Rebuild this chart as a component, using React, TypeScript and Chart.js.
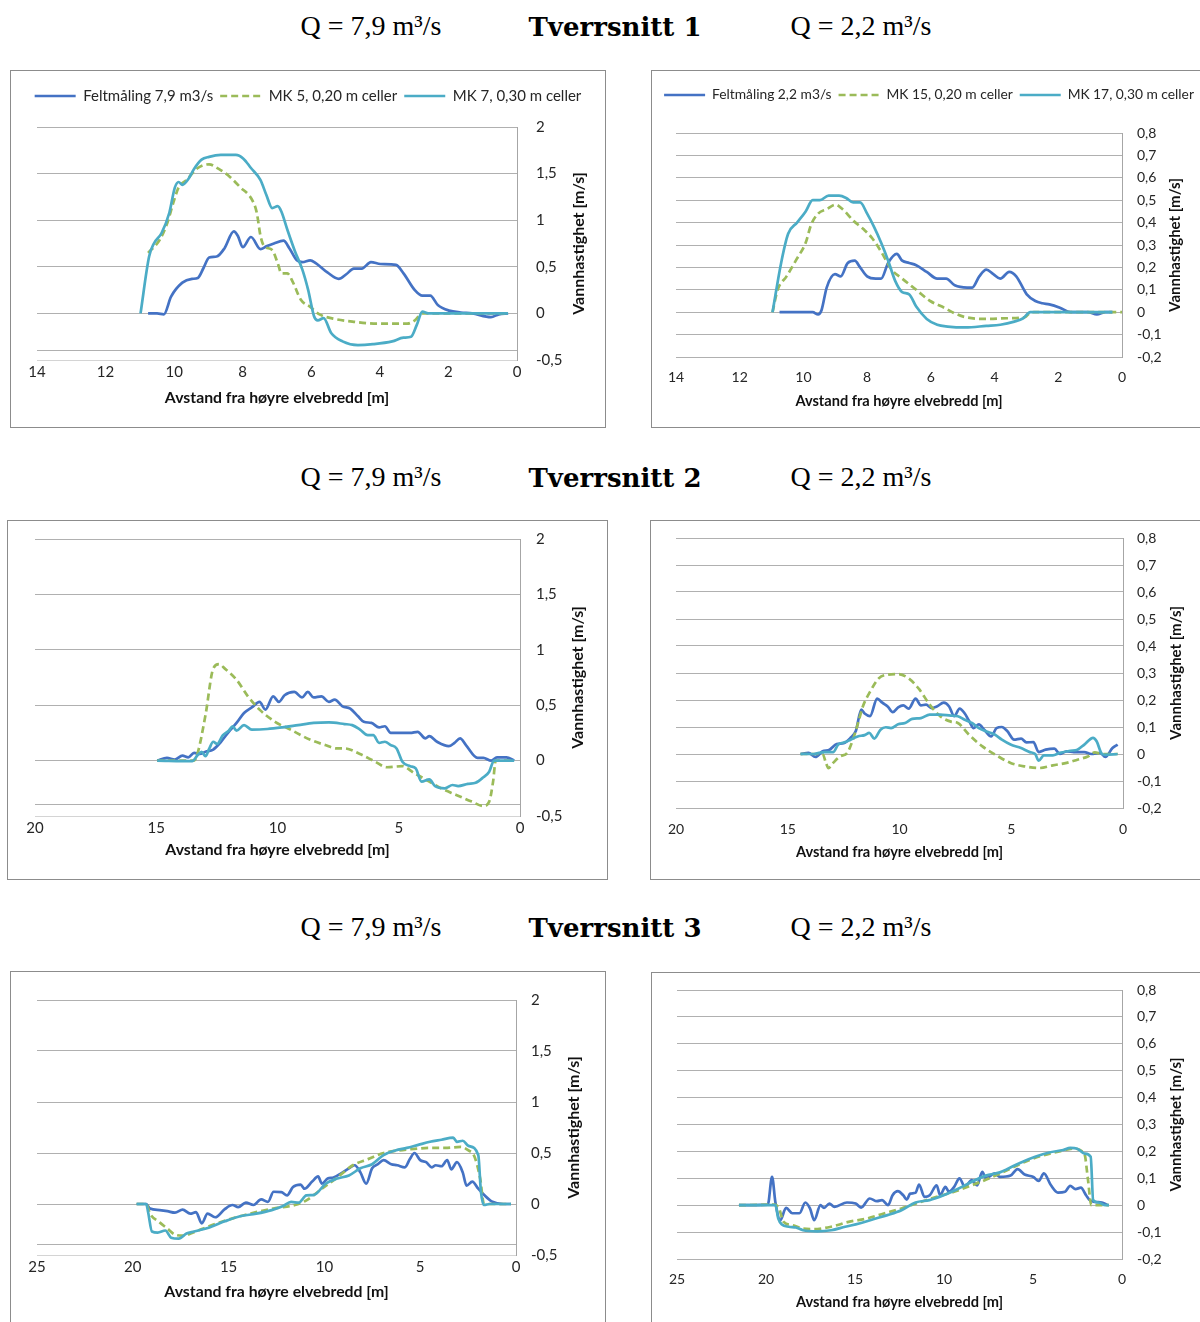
import React, { useEffect, useRef } from "react";
import { Chart, registerables } from "chart.js";

Chart.register(...registerables);

const FELT_COLOR = "#4472C4";
const MK_A_COLOR = "#9BBB59";
const MK_B_COLOR = "#4BACC6";

const X_TITLE = "Avstand fra høyre elvebredd [m]";
const Y_TITLE = "Vannhastighet [m/s]";

// ---------- Tverrsnitt 1, Q = 7,9 ----------
const ts1FeltX = [10.76, 10.5, 10.3, 10.09, 9.76, 9.48, 9.31, 9.14, 8.98, 8.76, 8.53, 8.26, 8.14, 8.0, 7.76, 7.48, 7.31, 7.09, 6.81, 6.64, 6.42, 6.26, 6.03, 5.87, 5.53, 5.2, 4.98, 4.76, 4.53, 4.26, 3.98, 3.53, 3.31, 2.98, 2.76, 2.53, 2.31, 1.98, 1.64, 1.31, 0.76, 0.53, 0.26];
const ts1FeltY = [0, 0, -0.01, 0.18, 0.33, 0.37, 0.38, 0.49, 0.6, 0.61, 0.7, 0.88, 0.83, 0.71, 0.82, 0.69, 0.72, 0.75, 0.78, 0.7, 0.57, 0.55, 0.57, 0.54, 0.44, 0.37, 0.42, 0.48, 0.48, 0.55, 0.53, 0.52, 0.43, 0.25, 0.19, 0.19, 0.09, 0.03, 0.01, 0, -0.04, -0.01, 0];
const ts1Mk5X = [10.76, 10.42, 10.2, 10.03, 9.87, 9.64, 9.31, 8.98, 8.7, 8.42, 8.09, 7.7, 7.59, 7.48, 7.37, 7.14, 6.98, 6.87, 6.7, 6.53, 6.31, 6.03, 5.76, 5.31, 4.76, 4.09, 3.2, 2.98, 2.76, 2.0, 1.0, 0.26];
const ts1Mk5Y = [0.65, 0.79, 0.97, 1.18, 1.35, 1.43, 1.56, 1.6, 1.55, 1.48, 1.36, 1.2, 1.08, 0.83, 0.72, 0.68, 0.54, 0.43, 0.43, 0.33, 0.15, 0.07, -0.01, -0.06, -0.09, -0.11, -0.11, -0.075, 0, 0, 0, 0];
const ts1Mk7X = [10.98, 10.73, 10.59, 10.37, 10.14, 9.98, 9.87, 9.76, 9.59, 9.42, 9.2, 8.98, 8.64, 8.2, 7.98, 7.76, 7.48, 7.31, 7.14, 6.98, 6.87, 6.7, 6.48, 6.26, 6.09, 5.92, 5.81, 5.64, 5.42, 5.09, 4.64, 4.2, 3.64, 3.31, 3.09, 2.92, 2.76, 2.59, 1.5, 0.26];
const ts1Mk7Y = [0, 0.61, 0.75, 0.86, 1.08, 1.35, 1.41, 1.38, 1.44, 1.55, 1.65, 1.68, 1.7, 1.7, 1.66, 1.56, 1.43, 1.27, 1.13, 1.15, 1.09, 0.9, 0.67, 0.47, 0.25, -0.03, -0.075, -0.05, -0.21, -0.3, -0.34, -0.33, -0.3, -0.26, -0.25, -0.12, 0.02, 0, 0, 0];

// ---------- Tverrsnitt 1, Q = 2,2 ----------
const ts1LowFeltX = [10.75, 10.2, 9.71, 9.54, 9.43, 9.27, 9.01, 8.83, 8.61, 8.39, 8.22, 8.0, 7.73, 7.56, 7.34, 7.07, 6.9, 6.68, 6.46, 6.13, 5.8, 5.52, 5.25, 4.86, 4.7, 4.48, 4.26, 4.04, 3.82, 3.54, 3.32, 2.99, 2.72, 2.5, 2.28, 1.95, 1.62, 1.07, 0.79, 0.52, 0.3];
const ts1LowFeltY = [0, 0, 0, -0.01, 0.01, 0.11, 0.17, 0.16, 0.22, 0.23, 0.2, 0.16, 0.15, 0.15, 0.22, 0.26, 0.23, 0.22, 0.21, 0.18, 0.15, 0.15, 0.12, 0.11, 0.11, 0.16, 0.19, 0.17, 0.15, 0.18, 0.16, 0.08, 0.05, 0.04, 0.035, 0.02, 0, 0, -0.01, 0, 0];
const ts1Mk15X = [10.97, 10.81, 10.53, 10.2, 9.93, 9.76, 9.54, 9.27, 8.99, 8.77, 8.44, 8.11, 7.84, 7.56, 7.23, 6.9, 6.46, 6.02, 5.58, 5.25, 4.92, 4.26, 3.6, 3.05, 2.88, 2.77, 1.5, 0];
const ts1Mk15Y = [0, 0.1, 0.16, 0.24, 0.31, 0.39, 0.44, 0.46, 0.48, 0.46, 0.41, 0.37, 0.33, 0.27, 0.19, 0.15, 0.1, 0.05, 0.02, -0.005, -0.022, -0.03, -0.027, -0.022, -0.002, 0, 0, 0];
const ts1Mk17X = [10.97, 10.7, 10.48, 10.2, 9.93, 9.71, 9.49, 9.21, 8.88, 8.66, 8.44, 8.22, 8.0, 7.78, 7.56, 7.34, 7.12, 6.9, 6.68, 6.46, 6.13, 5.8, 5.47, 4.92, 4.26, 3.82, 3.38, 3.1, 2.88, 2.72, 1.5, 0.3];
const ts1Mk17Y = [0, 0.22, 0.35, 0.4, 0.45, 0.5, 0.5, 0.52, 0.52, 0.51, 0.49, 0.49, 0.44, 0.38, 0.31, 0.23, 0.14, 0.09, 0.08, 0.025, -0.03, -0.056, -0.064, -0.068, -0.061, -0.056, -0.042, -0.027, 0, 0, 0, 0];

// ---------- Tverrsnitt 2, Q = 7,9 ----------
const ts2FeltX = [14.96, 14.56, 14.24, 13.92, 13.68, 13.44, 13.21, 12.97, 12.65, 12.33, 12.01, 11.69, 11.38, 11.06, 10.74, 10.5, 10.18, 9.94, 9.71, 9.31, 8.99, 8.75, 8.51, 8.19, 7.88, 7.64, 7.32, 7.0, 6.68, 6.44, 6.13, 5.81, 5.57, 5.33, 4.85, 4.53, 4.22, 3.9, 3.74, 3.42, 2.94, 2.7, 2.47, 2.23, 1.75, 1.51, 1.19, 0.95, 0.56, 0.24];
const ts2FeltY = [0, 0.025, 0.01, 0.045, 0.03, 0.07, 0.06, 0.08, 0.1, 0.17, 0.26, 0.34, 0.43, 0.48, 0.53, 0.46, 0.58, 0.53, 0.59, 0.62, 0.57, 0.62, 0.57, 0.58, 0.53, 0.55, 0.49, 0.47, 0.4, 0.35, 0.34, 0.3, 0.31, 0.25, 0.25, 0.25, 0.26, 0.2, 0.22, 0.17, 0.13, 0.16, 0.2, 0.14, 0.025, 0.025, 0, 0.03, 0.03, 0];
const ts2Mk5X = [14.96, 13.44, 13.29, 12.97, 12.65, 12.41, 12.17, 11.69, 11.22, 10.74, 10.1, 9.47, 8.67, 8.03, 7.56, 7.24, 6.6, 5.97, 5.49, 4.85, 4.38, 3.74, 3.26, 2.63, 1.99, 1.51, 1.27, 1.11, 1.0, 0.24];
const ts2Mk5Y = [0, 0, 0.07, 0.41, 0.83, 0.87, 0.83, 0.73, 0.58, 0.46, 0.35, 0.28, 0.19, 0.14, 0.11, 0.11, 0.06, -0.01, -0.06, -0.05, -0.11, -0.19, -0.25, -0.31, -0.37, -0.41, -0.37, -0.19, 0, 0];
const ts2Mk7X = [14.96, 13.52, 13.29, 13.13, 12.97, 12.81, 12.65, 12.49, 12.25, 12.01, 11.85, 11.69, 11.38, 11.06, 10.42, 9.79, 9.15, 8.51, 7.88, 7.24, 6.92, 6.6, 6.28, 6.05, 5.81, 5.57, 5.33, 5.09, 4.85, 4.53, 4.3, 4.06, 3.74, 3.5, 3.1, 2.78, 2.55, 2.15, 1.83, 1.51, 1.27, 1.07, 0.24];
const ts2Mk7Y = [0, -0.005, 0.05, 0.08, 0.04, 0.11, 0.17, 0.15, 0.23, 0.27, 0.31, 0.27, 0.32, 0.28, 0.285, 0.3, 0.32, 0.34, 0.345, 0.33, 0.32, 0.28, 0.23, 0.23, 0.16, 0.17, 0.14, 0.11, -0.01, -0.05, -0.07, -0.19, -0.17, -0.23, -0.25, -0.22, -0.23, -0.21, -0.2, -0.15, -0.1, 0, 0];

// ---------- Tverrsnitt 2, Q = 2,2 ----------
const ts2LowFeltX = [14.43, 14.07, 13.76, 13.44, 13.13, 12.81, 12.5, 12.19, 11.95, 11.71, 11.56, 11.32, 11.0, 10.77, 10.53, 10.3, 10.06, 9.83, 9.59, 9.28, 9.04, 8.81, 8.57, 8.33, 8.02, 7.78, 7.55, 7.31, 7.08, 6.89, 6.68, 6.45, 6.21, 5.9, 5.66, 5.42, 5.19, 4.87, 4.56, 4.32, 4.01, 3.77, 3.46, 3.07, 2.83, 2.52, 2.2, 1.73, 1.42, 1.02, 0.79, 0.47, 0.24];
const ts2LowFeltY = [0, 0.004, -0.011, 0.01, 0.016, 0.037, 0.04, 0.06, 0.086, 0.164, 0.15, 0.14, 0.205, 0.19, 0.176, 0.155, 0.173, 0.18, 0.168, 0.205, 0.18, 0.183, 0.17, 0.176, 0.19, 0.176, 0.14, 0.168, 0.15, 0.123, 0.096, 0.11, 0.09, 0.065, 0.096, 0.1, 0.086, 0.053, 0.057, 0.043, 0.044, 0.007, 0.016, 0.02, 0, 0.01, 0.007, 0.007, 0, 0.004, -0.011, 0.022, 0.035];
const ts2Mk15X = [14.43, 13.44, 13.29, 13.18, 12.97, 12.66, 12.34, 12.11, 11.87, 11.64, 11.32, 10.93, 10.53, 10.06, 9.59, 9.12, 8.65, 8.18, 7.7, 7.39, 6.92, 6.29, 5.66, 5.03, 4.4, 3.77, 3.14, 2.52, 2.04, 1.57, 1.26, 0.94, 0.24];
const ts2Mk15Y = [0, 0, -0.033, -0.052, -0.033, -0.009, 0.004, 0.047, 0.11, 0.176, 0.23, 0.28, 0.294, 0.296, 0.28, 0.24, 0.183, 0.14, 0.12, 0.115, 0.074, 0.028, -0.005, -0.033, -0.046, -0.052, -0.042, -0.033, -0.021, -0.009, 0.006, 0, 0];
const ts2Mk17X = [14.43, 13.84, 13.6, 13.36, 12.97, 12.74, 12.42, 12.19, 11.87, 11.56, 11.35, 11.13, 10.85, 10.61, 10.38, 10.06, 9.75, 9.43, 9.04, 8.65, 8.18, 7.7, 7.39, 7.08, 6.76, 6.45, 6.13, 5.74, 5.42, 5.03, 4.56, 4.17, 3.93, 3.77, 3.54, 3.14, 2.83, 2.36, 2.04, 1.73, 1.34, 1.18, 0.94, 0.79, 0.24];
const ts2Mk17Y = [0, 0, 0.004, 0.007, 0.007, 0.035, 0.044, 0.053, 0.065, 0.07, 0.078, 0.057, 0.09, 0.099, 0.096, 0.11, 0.115, 0.13, 0.133, 0.146, 0.146, 0.142, 0.14, 0.127, 0.115, 0.096, 0.084, 0.072, 0.053, 0.035, 0.022, 0.007, 0, -0.025, -0.005, -0.005, 0.004, 0.012, 0.016, 0.035, 0.06, 0.047, 0, -0.003, 0];

// ---------- Tverrsnitt 3, Q = 7,9 ----------
const ts3FeltX = [19.8, 19.3, 19.1, 18.6, 18.2, 17.8, 17.4, 17.0, 16.7, 16.4, 16.1, 15.7, 15.2, 14.8, 14.5, 14.1, 13.7, 13.3, 12.95, 12.65, 12.25, 11.95, 11.64, 11.24, 11.04, 10.64, 10.33, 10.13, 9.83, 9.53, 9.13, 8.72, 8.42, 8.12, 7.82, 7.51, 7.21, 6.91, 6.51, 6.2, 5.8, 5.54, 5.3, 5.0, 4.69, 4.39, 4.19, 3.89, 3.59, 3.38, 3.08, 2.78, 2.58, 2.28, 1.97, 1.67, 1.27, 0.66, 0.26];
const ts3FeltY = [0, 0, -0.045, -0.06, -0.07, -0.085, -0.055, -0.095, -0.08, -0.19, -0.095, -0.13, -0.05, -0.01, -0.03, 0.013, -0.01, 0.045, 0.02, 0.12, 0.117, 0.085, 0.166, 0.19, 0.15, 0.22, 0.27, 0.2, 0.25, 0.26, 0.3, 0.35, 0.38, 0.31, 0.2, 0.35, 0.39, 0.43, 0.39, 0.38, 0.36, 0.44, 0.5, 0.43, 0.41, 0.36, 0.38, 0.37, 0.43, 0.34, 0.41, 0.31, 0.18, 0.22, 0.15, 0.09, 0.026, 0, 0];
const ts3Mk5X = [19.8, 19.3, 19.1, 18.6, 18.2, 17.8, 17.4, 16.6, 15.6, 14.6, 13.56, 12.55, 11.54, 10.94, 10.13, 9.33, 8.52, 7.72, 6.91, 6.1, 5.3, 4.49, 3.69, 2.88, 2.48, 2.18, 1.87, 1.67, 0.26];
const ts3Mk5Y = [0, 0, -0.095, -0.18, -0.24, -0.3, -0.31, -0.26, -0.19, -0.13, -0.08, -0.04, -0.01, 0.036, 0.15, 0.26, 0.38, 0.44, 0.5, 0.525, 0.54, 0.55, 0.55, 0.56, 0.525, 0.47, 0.25, 0, 0];
const ts3Mk7X = [19.8, 19.3, 19.2, 19.0, 18.7, 18.3, 18.0, 17.6, 17.2, 16.8, 16.0, 15.2, 14.4, 13.56, 12.75, 12.15, 11.74, 11.34, 10.94, 10.54, 9.93, 9.33, 8.72, 8.12, 7.51, 6.91, 6.3, 5.7, 5.1, 4.49, 3.89, 3.28, 3.08, 2.78, 2.48, 1.97, 1.83, 1.67, 1.37, 0.26];
const ts3Mk7Y = [0, 0, -0.08, -0.27, -0.28, -0.26, -0.33, -0.34, -0.29, -0.27, -0.23, -0.17, -0.12, -0.095, -0.06, -0.02, 0.02, 0.013, 0.085, 0.09, 0.2, 0.25, 0.28, 0.35, 0.39, 0.48, 0.525, 0.55, 0.58, 0.61, 0.63, 0.65, 0.61, 0.62, 0.57, 0.48, 0.12, -0.01, 0, 0];

// ---------- Tverrsnitt 3, Q = 2,2 ----------
const ts3LowFeltX = [21.52, 19.9, 19.66, 19.47, 19.2, 18.87, 18.52, 18.12, 17.79, 17.53, 17.29, 16.94, 16.74, 16.44, 16.15, 15.45, 14.96, 14.66, 14.17, 13.77, 13.48, 13.14, 12.89, 12.59, 12.29, 12.09, 11.9, 11.6, 11.4, 11.1, 10.8, 10.41, 10.22, 9.92, 9.72, 9.43, 9.13, 8.83, 8.44, 8.14, 7.85, 7.65, 7.15, 6.86, 6.26, 5.87, 5.47, 4.98, 4.68, 4.39, 3.99, 3.6, 3.2, 2.91, 2.61, 2.31, 2.02, 1.82, 1.52, 1.13, 0.83];
const ts3LowFeltY = [0, 0.002, 0.105, 0.01, -0.056, -0.01, -0.03, -0.03, 0.01, -0.012, -0.056, 0, -0.01, 0.006, -0.006, 0.01, 0.006, -0.009, 0.025, 0.015, 0.019, 0, 0.037, 0.052, 0.037, 0.021, 0.043, 0.046, 0.077, 0.031, 0.037, 0.074, 0.037, 0.068, 0.05, 0.068, 0.1, 0.068, 0.093, 0.074, 0.124, 0.1, 0.118, 0.105, 0.11, 0.134, 0.114, 0.105, 0.09, 0.118, 0.074, 0.047, 0.05, 0.072, 0.06, 0.065, 0.037, 0.019, 0.012, 0.01, 0.002];
const ts3Mk15X = [21.52, 19.5, 19.27, 19.01, 18.52, 17.92, 17.33, 16.34, 15.36, 14.37, 13.38, 12.39, 11.4, 10.41, 9.43, 8.44, 7.45, 6.46, 5.47, 4.49, 3.5, 2.71, 2.11, 1.92, 1.72, 0.73];
const ts3Mk15Y = [0, 0.002, -0.012, -0.062, -0.074, -0.087, -0.089, -0.08, -0.062, -0.05, -0.031, -0.012, 0.01, 0.031, 0.05, 0.074, 0.1, 0.13, 0.161, 0.184, 0.2, 0.21, 0.19, 0.1, 0, 0];
const ts3Mk17X = [21.52, 19.47, 19.31, 19.11, 18.72, 18.32, 17.92, 17.13, 16.34, 15.55, 14.76, 13.97, 13.18, 12.39, 11.6, 10.81, 10.02, 9.23, 8.44, 7.65, 6.86, 6.46, 5.67, 4.88, 4.09, 3.3, 2.91, 2.51, 2.11, 1.76, 1.62, 1.32, 0.93, 0.73];
const ts3Mk17Y = [0, 0, -0.05, -0.072, -0.08, -0.083, -0.093, -0.097, -0.093, -0.08, -0.068, -0.052, -0.037, -0.019, 0.01, 0.019, 0.037, 0.06, 0.087, 0.11, 0.122, 0.134, 0.159, 0.18, 0.196, 0.205, 0.213, 0.21, 0.192, 0.18, 0.019, 0.01, 0, 0];

// ---------- labels ----------
const highLabels = ["Feltmåling 7,9 m3/s", "MK 5, 0,20 m celler", "MK 7, 0,30 m celler"];
const lowLabels = ["Feltmåling 2,2 m3/s", "MK 15, 0,20 m celler", "MK 17, 0,30 m celler"];
const sectionNames = ["Tverrsnitt 1", "Tverrsnitt 2", "Tverrsnitt 3"];
const highQ = "Q = 7,9 m³/s";
const lowQ = "Q = 2,2 m³/s";

type Kind = "felt" | "mkA" | "mkB";
interface Series { label: string; xs: number[]; ys: number[]; kind: Kind }
interface Spec {
  box: { left: number; top: number; width: number; height: number };
  area: { left: number; right: number; top: number; bottom: number };
  xMax: number; xStep: number;
  yMin: number; yMax: number; yStep: number; extraGrid?: number;
  legend: boolean; legendCenterY?: number;
  font: number; legendFont: number; titleFont: number; yTitleFont: number;
  xTickOffset: number; xTitleOffset: number; yTickGap: number; yTitleDx: number;
  series: Series[];
}

const kindColor: Record<Kind, string> = { felt: FELT_COLOR, mkA: MK_A_COLOR, mkB: MK_B_COLOR };
const FONT = "Lato";
const LINE_W = 2.7;
const DASH = [7, 4];

const fmt = (v: number) => String(Math.round(v * 100) / 100).replace(".", ",");

const mk = (labels: string[], a: [number[], number[]], b: [number[], number[]], c: [number[], number[]]): Series[] => [
  { label: labels[0], xs: a[0], ys: a[1], kind: "felt" },
  { label: labels[1], xs: b[0], ys: b[1], kind: "mkA" },
  { label: labels[2], xs: c[0], ys: c[1], kind: "mkB" },
];

const leftCommon = { yMin: -0.5, yMax: 2, yStep: 0.5, extraGrid: -0.4, font: 15, legendFont: 15, titleFont: 15.8, yTitleFont: 16 };
const rightCommon = { yMin: -0.2, yMax: 0.8, yStep: 0.1, font: 14, legendFont: 13.8, titleFont: 14.6, yTitleFont: 15 };

const specs: Spec[] = [
  {
    ...leftCommon,
    box: { left: 10, top: 70, width: 596, height: 358 },
    area: { left: 37, right: 517, top: 127, bottom: 360 },
    xMax: 14, xStep: 2, legend: true, legendCenterY: 96,
    xTickOffset: 12, xTitleOffset: 38, yTickGap: 19, yTitleDx: 62,
    series: mk(highLabels, [ts1FeltX, ts1FeltY], [ts1Mk5X, ts1Mk5Y], [ts1Mk7X, ts1Mk7Y]),
  },
  {
    ...rightCommon,
    box: { left: 651, top: 70, width: 556, height: 358 },
    area: { left: 676, right: 1122, top: 133, bottom: 357 },
    xMax: 14, xStep: 2, legend: true, legendCenterY: 95,
    xTickOffset: 20, xTitleOffset: 44, yTickGap: 15, yTitleDx: 53,
    series: mk(lowLabels, [ts1LowFeltX, ts1LowFeltY], [ts1Mk15X, ts1Mk15Y], [ts1Mk17X, ts1Mk17Y]),
  },
  {
    ...leftCommon,
    box: { left: 7, top: 520, width: 601, height: 360 },
    area: { left: 35, right: 520, top: 539, bottom: 816 },
    xMax: 20, xStep: 5, legend: false,
    xTickOffset: 12, xTitleOffset: 34, yTickGap: 16, yTitleDx: 58,
    series: mk(highLabels, [ts2FeltX, ts2FeltY], [ts2Mk5X, ts2Mk5Y], [ts2Mk7X, ts2Mk7Y]),
  },
  {
    ...rightCommon,
    box: { left: 650, top: 520, width: 557, height: 360 },
    area: { left: 676, right: 1123, top: 538, bottom: 808 },
    xMax: 20, xStep: 5, legend: false,
    xTickOffset: 21, xTitleOffset: 44, yTickGap: 14, yTitleDx: 53,
    series: mk(lowLabels, [ts2LowFeltX, ts2LowFeltY], [ts2Mk15X, ts2Mk15Y], [ts2Mk17X, ts2Mk17Y]),
  },
  {
    ...leftCommon,
    box: { left: 10, top: 971, width: 596, height: 360 },
    area: { left: 37, right: 516, top: 1000, bottom: 1255 },
    xMax: 25, xStep: 5, legend: false,
    xTickOffset: 12, xTitleOffset: 37, yTickGap: 15, yTitleDx: 58,
    series: mk(highLabels, [ts3FeltX, ts3FeltY], [ts3Mk5X, ts3Mk5Y], [ts3Mk7X, ts3Mk7Y]),
  },
  {
    ...rightCommon,
    box: { left: 651, top: 972, width: 556, height: 360 },
    area: { left: 677, right: 1122, top: 990, bottom: 1259 },
    xMax: 25, xStep: 5, legend: false,
    xTickOffset: 20, xTitleOffset: 43, yTickGap: 15, yTitleDx: 54,
    series: mk(lowLabels, [ts3LowFeltX, ts3LowFeltY], [ts3Mk15X, ts3Mk15Y], [ts3Mk17X, ts3Mk17Y]),
  },
];

const yTitlePlugin = {
  id: "yTitle",
  afterDraw(chart: any, _args: any, opts: any) {
    const { ctx, chartArea } = chart;
    ctx.save();
    ctx.translate(chartArea.right + opts.dx, (chartArea.top + chartArea.bottom) / 2);
    ctx.rotate(-Math.PI / 2);
    ctx.font = `bold ${opts.size}px ${FONT}`;
    ctx.fillStyle = "#111";
    ctx.textAlign = "center";
    ctx.textBaseline = "middle";
    ctx.fillText(opts.text, 0, 0);
    ctx.restore();
  },
};

const legendHeightPlugin = {
  id: "legendHeight",
  beforeInit(chart: any, _args: any, opts: any) {
    const legend = chart.legend;
    if (!legend || !opts || !opts.height) return;
    const orig = legend.fit;
    legend.fit = function () {
      orig.call(this);
      this.height = opts.height;
    };
  },
};

function buildConfig(s: Spec): any {
  const cx0 = s.box.left + 1;
  const cy0 = s.box.top + 1;
  const cw = s.box.width - 2;
  const ch = s.box.height - 2;
  const leftW = s.area.left - cx0;
  const yW = cx0 + cw - s.area.right;
  const lh = s.font * 1.2;
  const tlh = s.titleFont * 1.2;
  const xH = s.xTitleOffset + tlh / 2;
  const padBottom = Math.max(0, cy0 + ch - s.area.bottom - xH);
  const legendPad = 7;
  let padTop = s.area.top - cy0;
  let legendH = 0;
  if (s.legend) {
    padTop = (s.legendCenterY as number) - cy0 - legendPad - s.legendFont / 2;
    legendH = s.area.top - cy0 - padTop;
  }
  const xTickPad = s.xTickOffset - lh / 2;
  const extra = s.extraGrid;

  return {
    type: "line",
    data: {
      datasets: s.series.map((se, i) => ({
        label: se.label,
        data: se.xs.map((x, j) => ({ x, y: se.ys[j] })),
        borderColor: kindColor[se.kind],
        backgroundColor: kindColor[se.kind],
        borderWidth: LINE_W,
        borderDash: se.kind === "mkA" ? DASH : [],
        pointRadius: 0,
        pointHoverRadius: 0,
        cubicInterpolationMode: "monotone",
        fill: false,
        order: 3 - i,
      })),
    },
    options: {
      animation: false,
      responsive: false,
      devicePixelRatio: 1,
      events: [],
      layout: { autoPadding: false, padding: { left: 0, right: 0, top: padTop, bottom: padBottom } },
      scales: {
        x: {
          type: "linear",
          min: 0,
          max: s.xMax,
          reverse: true,
          grid: { display: false, drawTicks: false },
          border: { display: false },
          ticks: {
            stepSize: s.xStep,
            padding: xTickPad,
            color: "#262626",
            font: { family: FONT, size: s.font },
            maxRotation: 0,
            autoSkip: false,
          },
          title: {
            display: true,
            text: X_TITLE,
            color: "#111",
            font: { family: FONT, size: s.titleFont, weight: "bold" },
            padding: 0,
          },
          afterFit: (sc: any) => { sc.height = xH; },
        },
        y: {
          type: "linear",
          position: "right",
          min: s.yMin,
          max: s.yMax,
          grid: {
            drawTicks: false,
            lineWidth: 1,
            color: (ctx: any) => (ctx.tick && Math.abs(ctx.tick.value - s.yMin) < 1e-9 && extra !== undefined ? "#D4D4D4" : "#B0B0B0"),
          },
          border: { display: true, color: "#A6A6A6", width: 1 },
          ticks: {
            stepSize: s.yStep,
            padding: s.yTickGap,
            color: "#262626",
            font: { family: FONT, size: s.font },
            autoSkip: false,
            callback: (v: any) => (extra !== undefined && Math.abs(v - extra) < 1e-9 ? "" : fmt(Number(v))),
          },
          afterBuildTicks: (sc: any) => {
            if (extra !== undefined) {
              sc.ticks = [...sc.ticks, { value: extra }].sort((a: any, b: any) => a.value - b.value);
            }
          },
          afterFit: (sc: any) => {
            sc.width = yW;
            sc.paddingTop = 0;
            sc.paddingBottom = 0;
          },
        },
        yLeft: {
          type: "linear",
          position: "left",
          display: true,
          grid: { display: false, drawTicks: false },
          border: { display: false },
          ticks: { display: false },
          afterFit: (sc: any) => {
            sc.width = leftW;
            sc.paddingTop = 0;
            sc.paddingBottom = 0;
          },
        },
      },
      plugins: {
        legend: {
          display: s.legend,
          position: "top",
          align: "center",
          labels: {
            usePointStyle: true,
            pointStyle: "line",
            pointStyleWidth: 41,
            padding: legendPad,
            color: "#262626",
            font: { family: FONT, size: s.legendFont },
            sort: (a: any, b: any) => a.datasetIndex - b.datasetIndex,
            generateLabels: (chart: any) => {
              const base = (Chart.defaults as any).plugins.legend.labels.generateLabels(chart);
              return base.map((item: any) => {
                const ds = chart.data.datasets[item.datasetIndex];
                return {
                  ...item,
                  lineDash: ds.borderDash || [],
                  lineWidth: LINE_W,
                  strokeStyle: ds.borderColor,
                  fillStyle: ds.borderColor,
                };
              });
            },
          },
        },
        tooltip: { enabled: false },
        yTitle: { dx: s.yTitleDx, size: s.yTitleFont, text: Y_TITLE },
        legendHeight: { height: s.legend ? legendH : 0 },
      },
    },
    plugins: [yTitlePlugin, legendHeightPlugin],
  };
}

function ChartBox({ spec }: { spec: Spec }) {
  const ref = useRef<HTMLCanvasElement | null>(null);
  useEffect(() => {
    if (!ref.current) return;
    const chart = new Chart(ref.current, buildConfig(spec));
    return () => chart.destroy();
  }, [spec]);
  const { box } = spec;
  return (
    <div
      style={{
        position: "absolute",
        left: box.left,
        top: box.top,
        width: box.width,
        height: box.height,
        border: "1px solid #8C8C8C",
        boxSizing: "border-box",
        background: "#fff",
      }}
    >
      <canvas ref={ref} width={box.width - 2} height={box.height - 2} style={{ display: "block" }} />
    </div>
  );
}

const rowCenters = [26, 477, 927];

export default function App() {
  return (
    <div
      style={{
        position: "absolute",
        left: 0,
        top: 0,
        width: 1200,
        height: 1322,
        overflow: "hidden",
        background: "#fff",
      }}
    >
      {rowCenters.map((c, i) => (
        <React.Fragment key={i}>
          <div style={{ position: "absolute", left: 371, top: c - 14, transform: "translateX(-50%)", font: '28px "Liberation Serif"', lineHeight: "28px", whiteSpace: "nowrap", color: "#000" }}>
            {highQ}
          </div>
          <div style={{ position: "absolute", left: 615, top: c - 12.5, transform: "translateX(-50%)", font: 'bold 26px "DejaVu Serif"', lineHeight: "26px", whiteSpace: "nowrap", color: "#000" }}>
            {sectionNames[i]}
          </div>
          <div style={{ position: "absolute", left: 861, top: c - 14, transform: "translateX(-50%)", font: '28px "Liberation Serif"', lineHeight: "28px", whiteSpace: "nowrap", color: "#000" }}>
            {lowQ}
          </div>
        </React.Fragment>
      ))}
      {specs.map((s, i) => (
        <ChartBox key={i} spec={s} />
      ))}
    </div>
  );
}
